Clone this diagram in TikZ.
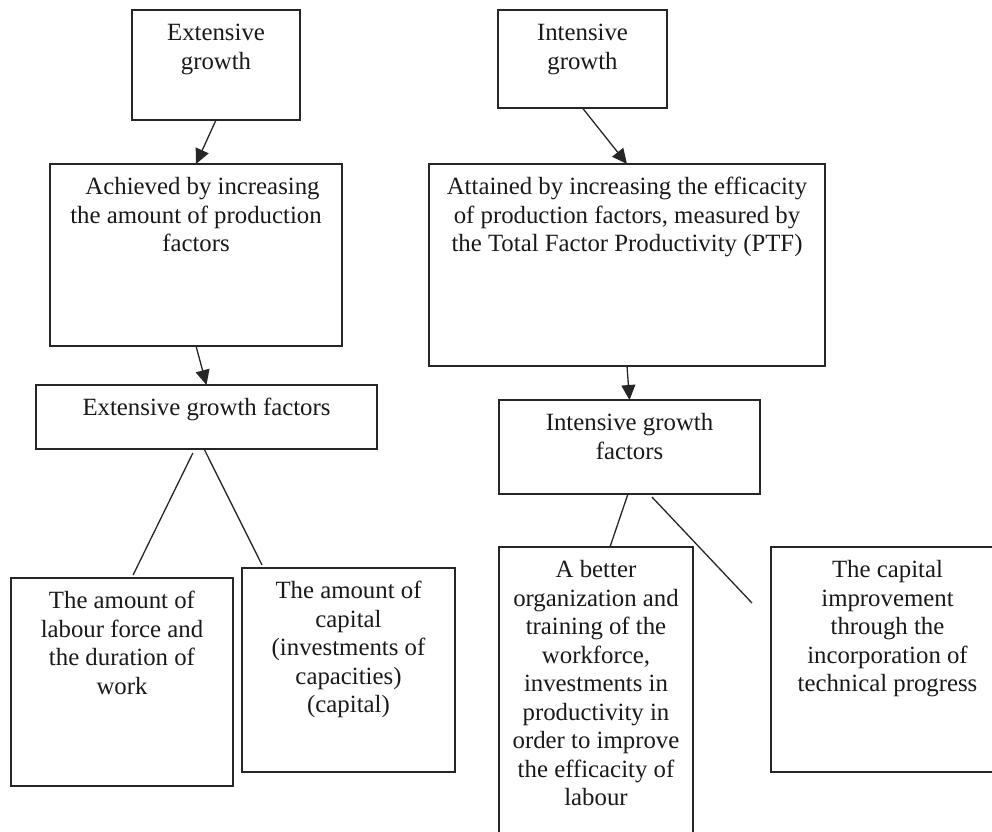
\documentclass[tikz,border=0pt]{standalone}
\usepackage{fontspec}
\setmainfont{Liberation Serif}
\usetikzlibrary{arrows.meta,calc}
\newcommand{\bxt}[3]{\parbox[t][#2][t]{#1}{\centering\vspace*{11pt}\strut #3\par}}
\tikzset{
  box/.style={draw=black!85, line width=1.6pt, inner sep=0pt, outer sep=0pt, anchor=north west, text=black!90, font=\fontsize{24.8}{28.5}\selectfont},
  conn/.style={line width=1.3pt, draw=black!85},
  arr/.style={conn, -{Triangle[length=15pt,width=14pt]}},
}
\begin{document}
\begin{tikzpicture}[x=1pt,y=-1pt]
\useasboundingbox (0,0) rectangle (992,831);
\clip (0,0) rectangle (992,831);
\node[box] (eg) at (132,10) {\bxt{168pt}{110pt}{Extensive\\growth}};
\node[box] (ig) at (498,10) {\bxt{169pt}{98pt}{Intensive\\growth}};
\node[box] (ach) at (50,164) {\bxt{292pt}{182pt}{\hspace*{13pt}Achieved by increasing\\the amount of production\\factors}};
\node[box] (att) at (429,164) {\bxt{396pt}{202pt}{Attained by increasing the efficacity\\of production factors, measured by\\the Total Factor Productivity (PTF)}};
\node[box] (egf) at (36,385) {\bxt{341pt}{64pt}{Extensive growth factors}};
\node[box] (igf) at (499,400) {\bxt{261pt}{94pt}{Intensive growth\\factors}};
\node[box] (lab) at (11,578) {\bxt{222pt}{208pt}{The amount of\\labour force and\\the duration of\\work}};
\node[box] (cap) at (242,568) {\bxt{213pt}{204pt}{The amount of\\capital\\(investments of\\capacities)\\(capital)}};
\node[box] (bet) at (499,547) {\bxt{194pt}{300pt}{A better\\organization and\\training of the\\workforce,\\investments in\\productivity in\\order to improve\\the efficacity of\\labour}};
\node[box] (ci) at (771,547) {\bxt{233pt}{225pt}{The capital\\improvement\\through the\\incorporation of\\technical progress}};
\draw[arr] (eg.south) -- (ach.north);
\draw[arr] (ig.south) -- (att.north);
\draw[arr] (ach.south) -- (egf.north);
\draw[arr] (att.south) -- (igf.north);
\draw[conn] ($(egf.south west)!0.46!(egf.south east)+(0,4)$) -- ($(lab.north west)!0.55!(lab.north east)+(0,-3)$);
\draw[conn] ($(egf.south west)!0.493!(egf.south east)$) -- ($(cap.north west)!0.094!(cap.north east)+(0,-3)$);
\draw[conn] ($(igf.south west)!0.494!(igf.south east)$) -- ($(bet.north west)!0.572!(bet.north east)$);
\draw[conn] ($(igf.south west)!0.586!(igf.south east)+(0,3)$) -- ($(ci.north west)+(-19,56)$);
\end{tikzpicture}
\end{document}
